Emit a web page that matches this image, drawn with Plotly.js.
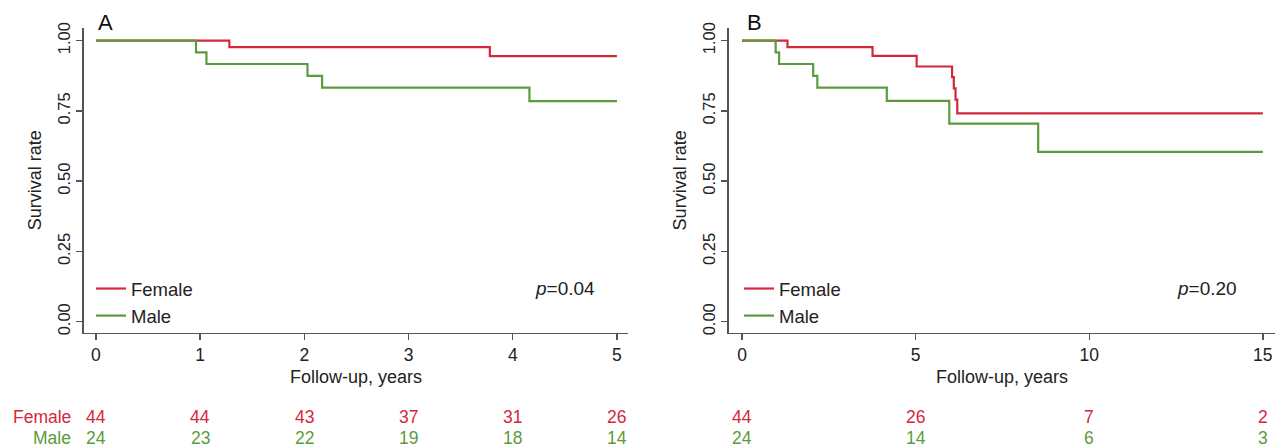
<!DOCTYPE html>
<html>
<head>
<meta charset="utf-8">
<script src="https://cdn.plot.ly/plotly-3.0.1.min.js"></script>
<style>
  html, body { margin: 0; padding: 0; background: #ffffff; }
  #chart { width: 1276px; height: 448px; }
</style>
</head>
<body>
<div id="chart"></div>
<script>
// ---------- Data ----------
// Panel A: follow-up 0-5 years
const femaleTimesA = [0, 1.28, 3.78, 5.0];
const femaleSurvA  = [1.0, 0.977, 0.945, 0.945];
const maleTimesA   = [0, 0.96, 1.06, 2.03, 2.17, 4.16, 5.0];
const maleSurvA    = [1.0, 0.958, 0.917, 0.875, 0.833, 0.785, 0.785];

// Panel B: follow-up 0-15 years
const femaleTimesB = [0, 1.31, 3.76, 5.03, 6.05, 6.10, 6.15, 6.20, 15.0];
const femaleSurvB  = [1.0, 0.977, 0.946, 0.908, 0.870, 0.830, 0.790, 0.741, 0.741];
const maleTimesB   = [0, 0.97, 1.07, 2.05, 2.17, 4.17, 5.97, 8.53, 15.0];
const maleSurvB    = [1.0, 0.958, 0.917, 0.875, 0.833, 0.786, 0.705, 0.604, 0.604];

// Number at risk
const riskTimesA   = [0, 1, 2, 3, 4, 5];
const femaleRiskA  = [44, 44, 43, 37, 31, 26];
const maleRiskA    = [24, 23, 22, 19, 18, 14];
const riskTimesB   = [0, 5, 10, 15];
const femaleRiskB  = [44, 26, 7, 2];
const maleRiskB    = [24, 14, 6, 3];

const groupNames   = ['Female', 'Male'];
const pValues      = ['0.04', '0.20'];
const panelLabels  = ['A', 'B'];
const xTicksA      = [0, 1, 2, 3, 4, 5];
const xTicksB      = [0, 5, 10, 15];
const yTicks       = [0, 0.25, 0.5, 0.75, 1.0];
const yTickText    = ['0.00', '0.25', '0.50', '0.75', '1.00'];

// ---------- Styling ----------
const RED = '#d3283b';
const GREEN = '#5c9b3c';
const AXIS = '#555555';
const TXT = '#222222';
const FONT = 'Liberation Sans, Arial, Helvetica, sans-serif';
const W = 1276, H = 448;

function line(x, y, name, color, xa, ya, legend) {
  return {
    x: x, y: y, name: name, type: 'scatter', mode: 'lines',
    line: { color: color, width: 2.2, shape: 'hv' },
    xaxis: xa, yaxis: ya, legend: legend, hoverinfo: 'x+y'
  };
}

const traces = [
  line(femaleTimesA, femaleSurvA, groupNames[0], RED, 'x', 'y', 'legend'),
  line(maleTimesA, maleSurvA, groupNames[1], GREEN, 'x', 'y', 'legend'),
  line(femaleTimesB, femaleSurvB, groupNames[0], RED, 'x2', 'y2', 'legend2'),
  line(maleTimesB, maleSurvB, groupNames[1], GREEN, 'x2', 'y2', 'legend2')
];

const yRange = [-0.039, 1.045];

function xAxis(domain, range, ticks) {
  return {
    domain: domain, range: range, tickvals: ticks, ticktext: ticks.map(String),
    showgrid: false, zeroline: false, showline: true, linecolor: AXIS, linewidth: 1.6,
    ticks: 'outside', ticklen: 6, tickwidth: 1.4, tickcolor: AXIS,
    tickfont: { family: FONT, size: 17.5, color: TXT },
    title: { text: 'Follow-up, years', font: { family: FONT, size: 18, color: TXT }, standoff: 6 },
    automargin: false, fixedrange: true
  };
}
function yAxis(anchor) {
  return {
    domain: [1 - 332.7 / H, 1 - 28 / H], range: yRange, anchor: anchor,
    tickvals: yTicks, ticktext: yTickText, tickangle: -90,
    showgrid: false, zeroline: false, showline: true, linecolor: AXIS, linewidth: 1.6,
    ticks: 'outside', ticklen: 6, tickwidth: 1.4, tickcolor: AXIS,
    tickfont: { family: FONT, size: 16.5, color: TXT },
    title: { text: 'Survival rate', font: { family: FONT, size: 18, color: TXT }, standoff: 8 },
    automargin: false, fixedrange: true
  };
}

const annotations = [];
// Panel labels
annotations.push({ text: panelLabels[0], xref: 'paper', yref: 'paper', x: 96 / W, y: 1 - 22 / H,
  xanchor: 'left', yanchor: 'middle', showarrow: false, font: { family: FONT, size: 22, color: '#111' } });
annotations.push({ text: panelLabels[1], xref: 'paper', yref: 'paper', x: 745 / W, y: 1 - 22 / H,
  xanchor: 'left', yanchor: 'middle', showarrow: false, font: { family: FONT, size: 22, color: '#111' } });
// p values
annotations.push({ text: '<i>p</i>=' + pValues[0], xref: 'x', yref: 'y', x: 4.81, y: 0.117,
  xanchor: 'right', yanchor: 'middle', showarrow: false, font: { family: FONT, size: 19, color: TXT } });
annotations.push({ text: '<i>p</i>=' + pValues[1], xref: 'x2', yref: 'y2', x: 14.3, y: 0.117,
  xanchor: 'right', yanchor: 'middle', showarrow: false, font: { family: FONT, size: 19, color: TXT } });

// Number-at-risk table
const rowY = [1 - 417 / H, 1 - 438 / H];
const rowColors = [RED, GREEN];
groupNames.forEach((g, i) => {
  annotations.push({ text: g, xref: 'paper', yref: 'paper', x: 73 / W, y: rowY[i],
    xanchor: 'right', yanchor: 'middle', showarrow: false,
    font: { family: FONT, size: 17.5, color: rowColors[i] } });
});
function riskRow(times, vals, xref, i) {
  times.forEach((t, k) => {
    annotations.push({ text: String(vals[k]), xref: xref, yref: 'paper', x: t, y: rowY[i],
      xanchor: 'center', yanchor: 'middle', showarrow: false,
      font: { family: FONT, size: 17.5, color: rowColors[i] } });
  });
}
riskRow(riskTimesA, femaleRiskA, 'x', 0);
riskRow(riskTimesA, maleRiskA, 'x', 1);
riskRow(riskTimesB, femaleRiskB, 'x2', 0);
riskRow(riskTimesB, maleRiskB, 'x2', 1);

const legendBase = {
  xref: 'paper', yref: 'paper', xanchor: 'left', yanchor: 'top',
  bgcolor: 'rgba(0,0,0,0)', borderwidth: 0,
  font: { family: FONT, size: 18.5, color: TXT },
  traceorder: 'normal', itemwidth: 30, tracegroupgap: 0
};

const layout = {
  width: W, height: H,
  margin: { l: 0, r: 0, t: 0, b: 0, autoexpand: false },
  paper_bgcolor: '#ffffff', plot_bgcolor: '#ffffff',
  showlegend: true,
  legend: Object.assign({}, legendBase, { x: 91 / W, y: 1 - 270 / H }),
  legend2: Object.assign({}, legendBase, { x: 739 / W, y: 1 - 270 / H }),
  xaxis: xAxis([84 / W, 628 / W], [-0.115, 5.106], xTicksA),
  yaxis: yAxis('x'),
  xaxis2: Object.assign(xAxis([729 / W, 1275 / W], [-0.374, 15.35], xTicksB), { anchor: 'y2' }),
  yaxis2: yAxis('x2'),
  annotations: annotations
};
layout.xaxis.anchor = 'y';

Plotly.newPlot('chart', traces, layout, { staticPlot: true, displayModeBar: false });
</script>
</body>
</html>
